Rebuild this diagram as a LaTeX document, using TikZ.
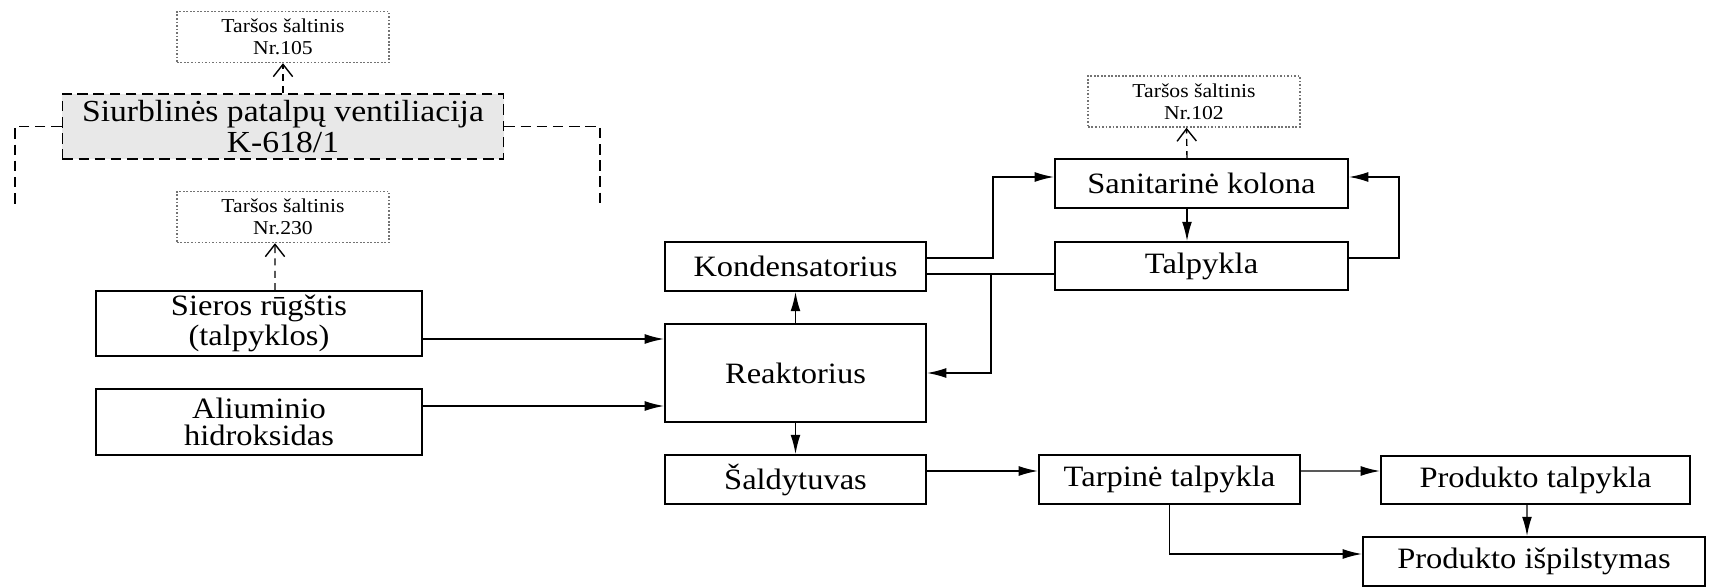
\documentclass[tikz,border=0pt]{standalone}
\usepackage{fontspec}
\setmainfont{Liberation Serif}[FakeStretch=1.1]
\usepackage{tikz}
\usetikzlibrary{arrows.meta,positioning}

\begin{document}
\begin{tikzpicture}[
  x=0.01cm, y=-0.01cm,
  blok/.style={draw, line width=0.5pt, inner sep=0pt, align=center, minimum height=0.49cm, font=\fontsize{8.4}{7.6}\selectfont},
  saltinis/.style={draw=black!55, dash pattern=on 0.5pt off 0.5pt, inner sep=0pt, align=center, minimum width=2.12cm, minimum height=0.51cm, font=\fontsize{5.6}{6.3}\selectfont},
  vent/.style={draw, dash pattern=on 3pt off 1.6pt, fill=black!9, inner sep=0pt, align=center, minimum width=4.41cm, minimum height=0.65cm, font=\fontsize{8.7}{8.9}\selectfont},
  arr/.style={-{Latex[length=5.5pt,width=2.8pt]}, line width=0.4pt},
  darr/.style={-{Straight Barb[length=3.5pt,width=5.5pt]}, dash pattern=on 2pt off 1.5pt, line width=0.4pt},
  dsh/.style={dash pattern=on 3pt off 1.6pt, line width=0.4pt}
]
\useasboundingbox (0,0) rectangle (1709,588);

% taršos šaltiniai
\node[saltinis] (src105) at (283,37) {Taršos šaltinis\\Nr.105};
\node[saltinis] (src230) at (283,217) {Taršos šaltinis\\Nr.230};
\node[saltinis] (src102) at (1194,101.5) {Taršos šaltinis\\Nr.102};

% ventiliacija
\node[vent] (vent) at (283,126.5) {Siurblinės patalpų ventiliacija\\K-618/1};
\coordinate (ventL) at (15,208);
\coordinate (ventR) at (600,208);

% žaliavos
\node[blok, minimum width=3.26cm, minimum height=0.65cm] (acid) at (259,323.5) {Sieros rūgštis\\(talpyklos)};
\node[blok, minimum width=3.26cm, minimum height=0.66cm] (alum) at (259,422) {Aliuminio\\hidroksidas};

% reaktoriaus mazgas
\node[blok, minimum width=2.61cm] (cond) at (795.5,266.5) {Kondensatorius};
\node[blok, minimum width=2.61cm, minimum height=0.98cm] (reac) at (795.5,373) {Reaktorius};
\node[blok, minimum width=2.61cm] (cool) at (795.5,479.5) {Šaldytuvas};

% kolona
\node[blok, minimum width=2.93cm] (col) at (1201.5,183.5) {Sanitarinė kolona};
\node[blok, minimum width=2.93cm, minimum height=0.48cm] (tank) at (1201.5,266) {Talpykla};

% produktas
\node[blok, minimum width=2.61cm] (mid) at (1169.5,479.5) {Tarpinė talpykla};
\node[blok, minimum width=3.09cm, minimum height=0.48cm] (prodt) at (1535.5,480) {Produkto talpykla};
\node[blok, minimum width=3.42cm] (fill) at (1534,561.5) {Produkto išpilstymas};

% emisijos
\draw[darr] (vent.north) -- (src105.south);
\draw[darr] ([xshift=0.16cm]acid.north) -- ([xshift=-0.08cm]src230.south);
\draw[darr] ([xshift=-0.145cm]col.north) -- ([xshift=-0.075cm]src102.south);
\draw[dsh] (vent.west) -| (ventL);
\draw[dsh] (vent.east) -| (ventR);

% srautai
\coordinate (a1) at ([yshift=-0.155cm]acid.east);
\coordinate (a2) at ([yshift=0.16cm]alum.east);
\draw[arr] (a1) -- (a1 -| reac.west);
\draw[arr] (a2) -- (a2 -| reac.west);
\draw[arr] (reac.north) -- (cond.south);
\draw[arr] (reac.south) -- (cool.north);
\coordinate (k1) at ([yshift=0.085cm]cond.east);
\draw[arr] (k1) -- ++(66,0) |- ([yshift=0.065cm]col.west);
\coordinate (t1) at ([yshift=-0.08cm]tank.west);
\draw (cond.east |- t1) -- (t1);
\draw[arr] ([xshift=-0.63cm]t1) |- (reac.east);
\draw[arr] ([xshift=-0.145cm]col.south) -- ([xshift=-0.145cm]tank.north);
\draw[arr] ([yshift=0.08cm]tank.east) -- ++(50,0) |- ([yshift=0.065cm]col.east);
\draw[arr] ([yshift=0.085cm]cool.east) -- ([yshift=0.085cm]mid.west);
\draw[arr] ([yshift=0.085cm]mid.east) -- ([yshift=0.09cm]prodt.west);
\draw[arr] ([xshift=-0.085cm]prodt.south) -- ([xshift=-0.07cm]fill.north);
\draw[arr] (mid.south) |- ([yshift=0.075cm]fill.west);
\end{tikzpicture}
\end{document}
